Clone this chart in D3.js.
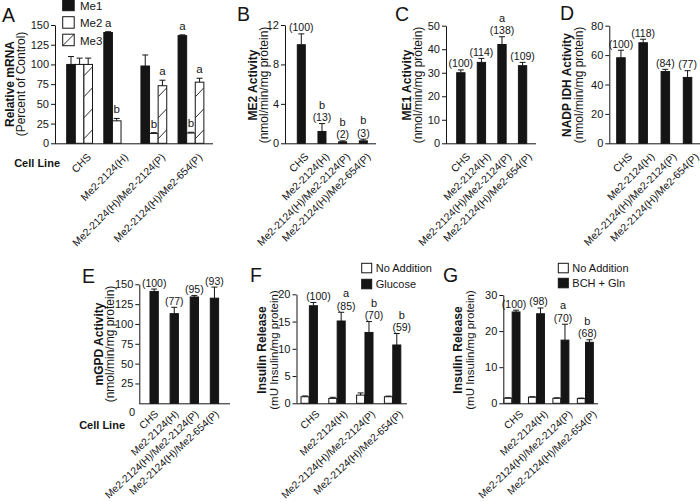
<!DOCTYPE html>
<html><head><meta charset="utf-8">
<script src="https://cdn.jsdelivr.net/npm/d3@7"></script>
<style>
body{margin:0;background:#fff;}
svg text{font-family:"Liberation Sans",Arial,Helvetica,sans-serif;fill:#151515;-webkit-font-smoothing:antialiased;}
</style></head><body>
<svg id="chart" width="700" height="502"></svg>
<script>
// ---------- DATA ----------
const cellLines = ["CHS","Me2-2124(H)","Me2-2124(H)/Me2-2124(P)","Me2-2124(H)/Me2-654(P)"];

// A: relative mRNA (percent of control)
const mrnaSeries = ["Me1","Me2","Me3"];
const mrnaMe1 = [100,140.5,98,136.5];
const mrnaMe1Err = [10,1,14,1];
const mrnaMe2 = [100,28.5,12.5,13];
const mrnaMe2Err = [8,3,1,1];
const mrnaMe3 = [100,null,73,77.5];
const mrnaMe3Err = [8,null,7,5];
const mrnaLetters = [["","",""],["a","b",""],["","b","a"],["a","b","a"]];
const mrnaTicks = [0,25,50,75,100,125,150];

// B: ME2 activity
const me2Act = [10,1.2,0.15,0.25];
const me2Err = [1.1,0.8,0.1,0.17];
const me2Pct = ["(100)","(13)","(2)","(3)"];
const me2Letters = ["","b","b","b"];
const me2Ticks = [0,4,8,12];

// C: ME1 activity
const me1Act = [30,34.4,42,33];
const me1Err = [1.2,1.7,3.3,1.4];
const me1Pct = ["(100)","(114)","(138)","(109)"];
const me1Letters = ["","","a",""];
const me1Ticks = [0,10,20,30,40,50];

// D: NADP IDH activity
const idhAct = [58.2,68.4,48.8,44.8];
const idhErr = [5.1,2.4,1.5,4.6];
const idhPct = ["(100)","(118)","(84)","(77)"];
const idhLetters = ["","","",""];
const idhTicks = [0,20,40,60,80];

// E: mGPD activity
const gpdAct = [141,113,134,132.5];
const gpdErr = [3,8,2,14];
const gpdPct = ["(100)","(77)","(95)","(93)"];
const gpdLetters = ["","","",""];
const gpdTicks = [25,50,75,100,125,150];

// F: insulin release, glucose
const fSeries = ["No Addition","Glucose"];
const fNoAdd = [1.2,0.9,1.5,1.2];
const fNoAddErr = [0.15,0.2,0.4,0.12];
const fGlucose = [17.9,15.1,13.0,10.7];
const fGlucoseErr = [0.6,1.6,2.0,2.1];
const fPct = ["(100)","(85)","(70)","(59)"];
const fLetters = ["","a","b","b"];
const fTicks = [0,5,10,15,20];

// G: insulin release, BCH + Gln
const gSeries = ["No Addition","BCH + Gln"];
const gNoAdd = [1.4,1.7,1.4,1.3];
const gNoAddErr = [0.15,0.12,0.12,0.15];
const gBch = [25.3,24.8,17.5,16.9];
const gBchErr = [0.5,1.6,4.4,0.7];
const gPct = ["(100)","(98)","(70)","(68)"];
const gLetters = ["","","a","b"];
const gTicks = [0,10,20,30];

// ---------- DRAWING ----------
const svg = d3.select("#chart");
const INK = "#151515";
let clipId = 0;

function bandScale(domain, firstLeft, step, bw) {
  const pi = 1 - bw / step;
  const len = step * (domain.length - pi);
  return d3.scaleBand().domain(domain).range([firstLeft, firstLeft + len]).paddingInner(pi).paddingOuter(0);
}

function yAxis(x, y, ticks) {
  const g = svg.append("g").attr("transform", `translate(${x},0)`)
    .call(d3.axisLeft(y).tickValues(ticks).tickSize(4).tickSizeOuter(0).tickPadding(2).tickFormat(d3.format("d")));
  g.selectAll("text").style("font-size", "11px").attr("fill", INK);
  g.selectAll("path,line").attr("stroke", INK);
  return g;
}

function xLine(x1, x2, y0) {
  svg.append("line").attr("x1", x1).attr("x2", x2).attr("y1", y0 + 0.5).attr("y2", y0 + 0.5)
    .attr("stroke", INK).attr("stroke-width", 1);
}

function xLabels(centerFn, y0, dx, dy, angle, size) {
  svg.append("g").selectAll("text").data(cellLines).join("text")
    .attr("transform", d => `translate(${centerFn(d) + dx},${y0 + dy}) rotate(${angle})`)
    .attr("text-anchor", "end").attr("fill", INK).style("font-size", size + "px").text(d => d);
}

function yTitle(xb, xn, cy, bold, normal, nsize) {
  svg.append("text").attr("transform", `translate(${xb},${cy}) rotate(-90)`).attr("fill", INK)
    .attr("text-anchor", "middle").style("font-size", "12px").style("font-weight", "bold").text(bold);
  svg.append("text").attr("transform", `translate(${xn},${cy}) rotate(-90)`).attr("fill", INK)
    .attr("text-anchor", "middle").style("font-size", (nsize || 12) + "px").text(normal);
}

function panelLetter(x, y, t) {
  svg.append("text").attr("x", x).attr("y", y).attr("fill", INK).style("font-size", "19.5px").text(t);
}

function errBar(cx, yv, ye) {
  const g = svg.append("g").attr("stroke", INK).attr("stroke-width", 1);
  g.append("line").attr("x1", cx).attr("x2", cx).attr("y1", yv).attr("y2", ye);
  g.append("line").attr("x1", cx - 3).attr("x2", cx + 3).attr("y1", ye).attr("y2", ye);
}

function bar(x, yTop, w, h, kind) {
  svg.append("rect").attr("x", x).attr("y", yTop).attr("width", w).attr("height", h)
    .attr("fill", kind === "black" ? INK : "#fff").attr("stroke", INK).attr("stroke-width", 1);
  if (kind === "hatch") {
    const id = "clip" + (clipId++);
    svg.append("clipPath").attr("id", id).append("rect").attr("x", x).attr("y", yTop).attr("width", w).attr("height", h);
    const g = svg.append("g").attr("clip-path", `url(#${id})`).attr("stroke", INK).attr("stroke-width", 0.9);
    for (let yc = yTop + h - 9; yc > yTop - 10; yc -= 21) {
      g.append("line").attr("x1", x).attr("y1", yc + 4.5).attr("x2", x + w).attr("y2", yc - 4.5);
    }
  }
}

function valueLabels(centers, yErrTop, pcts, letters) {
  centers.forEach((cx, i) => {
    const base = yErrTop[i] - 2.5;
    svg.append("text").attr("x", cx).attr("y", base).attr("text-anchor", "middle").attr("fill", INK)
      .style("font-size", "10.5px").text(pcts[i]);
    if (letters[i]) svg.append("text").attr("x", cx).attr("y", base - 12.5).attr("text-anchor", "middle")
      .attr("fill", INK).style("font-size", "11px").text(letters[i]);
  });
}

// single-series panel
function simplePanel(p, vals, errs, pcts, letters, ticks) {
  const y = d3.scaleLinear().domain([0, d3.max(ticks)]).range([p.bottom, p.top]);
  const x = bandScale(cellLines, p.firstLeft, p.step, p.bw);
  yAxis(p.axisX, y, ticks);
  xLine(p.axisX, p.xEnd, p.bottom);
  cellLines.forEach((c, i) => {
    bar(x(c), y(vals[i]), x.bandwidth(), y(0) - y(vals[i]), "black");
    errBar(x(c) + x.bandwidth() / 2, y(vals[i]), y(vals[i] + errs[i]));
  });
  valueLabels(cellLines.map(c => x(c) + x.bandwidth() / 2 + (p.labelDx || 0)),
    cellLines.map((c, i) => y(vals[i] + errs[i])), pcts, letters);
  xLabels(c => x(c) + x.bandwidth() / 2, p.bottom, p.catDx, p.catDy, p.angle, p.catSize);
  return y;
}

// ---------- Panel A ----------
(function () {
  const y = d3.scaleLinear().domain([0, 150]).range([143.3, 25]);
  const x0 = bandScale(cellLines, 66.7, 37.12, 25.8);
  const x1 = d3.scaleBand().domain(mrnaSeries).range([0, x0.bandwidth()]);
  const vals = [mrnaMe1, mrnaMe2, mrnaMe3];
  const errs = [mrnaMe1Err, mrnaMe2Err, mrnaMe3Err];
  const kinds = ["black", "white", "hatch"];
  yAxis(55, y, mrnaTicks);
  xLine(55, 213, 143.3);
  cellLines.forEach((c, i) => {
    mrnaSeries.forEach((s, j) => {
      const v = vals[j][i];
      if (v == null) return;
      const bx = x0(c) + x1(s);
      bar(bx, y(v), x1.bandwidth(), y(0) - y(v), kinds[j]);
      const ye = y(v + errs[j][i]);
      errBar(bx + x1.bandwidth() / 2, y(v), ye);
      const L = mrnaLetters[i][j];
      if (L) svg.append("text").attr("x", bx + x1.bandwidth() / 2).attr("y", ye - 5).attr("fill", INK)
        .attr("text-anchor", "middle").style("font-size", "11.5px").text(L);
    });
  });
  xLabels(c => x0(c) + x0.bandwidth() / 2, 143.3, 12, 14.5, -45, 10.5);
  yTitle(14, 25, 84, "Relative mRNA", "(Percent of Control)");
  panelLetter(2, 21.5, "A");
  // legend
  mrnaSeries.forEach((s, j) => {
    const ly = -0.8 + j * 17.5;
    bar(62.7, ly, 11.5, 11.5, kinds[j] === "hatch" ? "white" : kinds[j]);
    if (kinds[j] === "hatch") svg.append("line").attr("x1", 62.7).attr("y1", ly + 11.5).attr("x2", 74.2).attr("y2", ly)
      .attr("stroke", INK).attr("stroke-width", 0.9);
    svg.append("text").attr("x", 80).attr("y", ly + 10.5).attr("fill", INK).style("font-size", "11.5px").text(s);
  });
  svg.append("text").attr("x", 60).attr("y", 167).attr("text-anchor", "end").attr("fill", INK)
    .style("font-size", "11px").style("font-weight", "bold").text("Cell Line");
})();

// ---------- Panel B ----------
simplePanel({top: 25, bottom: 143.3, axisX: 285, xEnd: 376, firstLeft: 297.3, step: 20.67, bw: 8, catDx: 8, catDy: 14, angle: -45, catSize: 10.5},
  me2Act, me2Err, me2Pct, me2Letters, me2Ticks);
yTitle(257, 268, 85, "ME2 Activity", "(nmol/min/mg protein)");
panelLetter(237, 21, "B");

// ---------- Panel C ----------
simplePanel({top: 25.7, bottom: 143.3, axisX: 446, xEnd: 536, firstLeft: 456.7, step: 20.57, bw: 8.3, catDx: 10, catDy: 14, angle: -45, catSize: 10.5},
  me1Act, me1Err, me1Pct, me1Letters, me1Ticks);
yTitle(410.5, 422, 85, "ME1 Activity", "(nmol/min/mg protein)");
panelLetter(395, 21, "C");

// ---------- Panel D ----------
simplePanel({top: 25.7, bottom: 143.3, axisX: 609.3, xEnd: 700, firstLeft: 616.7, step: 22.2, bw: 8.5, catDx: 12, catDy: 14, angle: -45, catSize: 10.5},
  idhAct, idhErr, idhPct, idhLetters, idhTicks);
yTitle(571, 583, 85, "NADP IDH Activity", "(nmol/min/mg protein)");
panelLetter(560, 20, "D");

// ---------- Panel E ----------
(function () {
  simplePanel({top: 284.3, bottom: 403.3, axisX: 139.3, xEnd: 230, firstLeft: 150, step: 20.1, bw: 8.3, catDx: 5, catDy: 11.5, angle: -43, catSize: 10.3},
    gpdAct, gpdErr, gpdPct, gpdLetters, gpdTicks);
  svg.append("text").attr("x", 135).attr("y", 415.5).attr("text-anchor", "end").attr("fill", INK).style("font-size", "11px").text("0");
  yTitle(102.5, 113.5, 344, "mGPD Activity", "(nmol/min/mg protein)");
  panelLetter(82, 282.5, "E");
  svg.append("text").attr("x", 125).attr("y", 429).attr("text-anchor", "end").attr("fill", INK)
    .style("font-size", "11px").style("font-weight", "bold").text("Cell Line");
})();

// ---------- paired panels F, G ----------
function pairedPanel(p, series, white, whiteErr, black, blackErr, pcts, letters, ticks) {
  const y = d3.scaleLinear().domain([0, d3.max(ticks)]).range([p.bottom, p.top]);
  const x0 = bandScale(cellLines, p.firstLeft, p.step, p.groupW);
  const x1 = d3.scaleBand().domain(series).range([0, x0.bandwidth()]).paddingInner(0.04);
  yAxis(p.axisX, y, ticks);
  xLine(p.axisX, p.xEnd, p.bottom);
  const vals = [white, black], errs = [whiteErr, blackErr], kinds = ["white", "black"];
  cellLines.forEach((c, i) => {
    series.forEach((s, j) => {
      const v = vals[j][i], bx = x0(c) + x1(s);
      bar(bx, y(v), x1.bandwidth(), y(0) - y(v), kinds[j]);
      errBar(bx + x1.bandwidth() / 2, y(v), y(v + errs[j][i]));
    });
  });
  valueLabels(cellLines.map(c => x0(c) + x1(series[1]) + x1.bandwidth() / 2 + p.labelDx),
    cellLines.map((c, i) => y(black[i] + blackErr[i])), pcts, letters);
  xLabels(c => x0(c) + x0.bandwidth() / 2, p.bottom, p.catDx, p.catDy, -43, 10.3);
  // legend
  series.forEach((s, j) => {
    const ly = p.legY + j * p.legStep;
    bar(p.legX, ly, 10, 9.5, kinds[j]);
    svg.append("text").attr("x", p.legX + 14).attr("y", ly + 8.5).attr("fill", INK).style("font-size", "11px").text(s);
  });
}

pairedPanel({top: 294.3, bottom: 403.3, axisX: 296.5, xEnd: 407, firstLeft: 301, step: 27.8, groupW: 16.4,
  labelDx: 5, catDx: 11, catDy: 11.5, legX: 361.7, legY: 263.3, legStep: 16},
  fSeries, fNoAdd, fNoAddErr, fGlucose, fGlucoseErr, fPct, fLetters, fTicks);
yTitle(265.5, 277.5, 350, "Insulin Release", "(mU Insulin/mg protein)", 11.5);
panelLetter(250, 282, "F");

pairedPanel({top: 295, bottom: 403.3, axisX: 503.3, xEnd: 598, firstLeft: 504, step: 24.45, groupW: 16,
  labelDx: -2, catDx: 12, catDy: 11.5, legX: 558.3, legY: 263.3, legStep: 15},
  gSeries, gNoAdd, gNoAddErr, gBch, gBchErr, gPct, gLetters, gTicks);
yTitle(462, 473.5, 350, "Insulin Release", "(mU Insulin/mg protein)", 11.5);
panelLetter(443, 282, "G");
</script>
</body></html>
